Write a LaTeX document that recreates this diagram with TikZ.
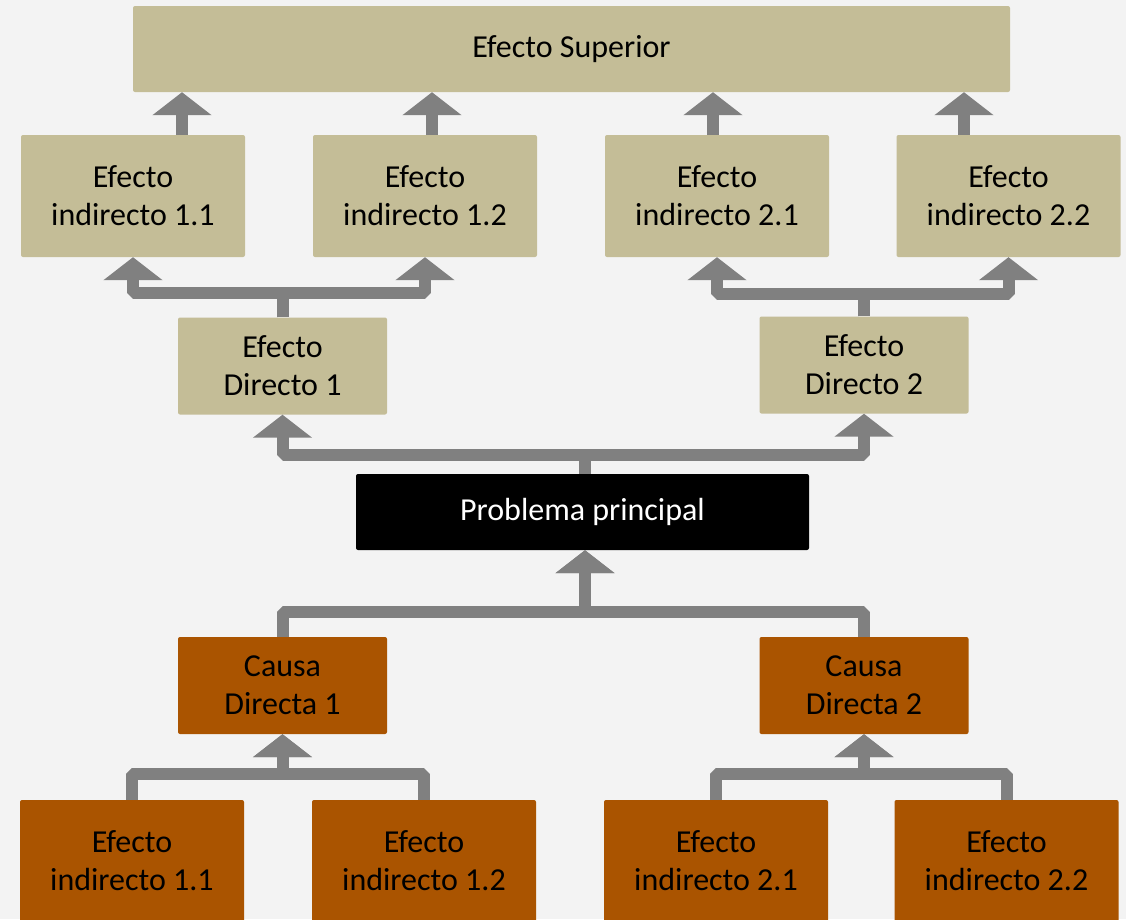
\documentclass[tikz,border=0pt]{standalone}
\usepackage{fontspec}
\setmainfont{Carlito}
\usepackage{tikz}
\usetikzlibrary{arrows.meta, calc}
\definecolor{bgcol}{HTML}{F3F3F3}
\definecolor{tan}{HTML}{C4BD97}
\definecolor{rust}{HTML}{AA5400}
\definecolor{linkgray}{HTML}{808080}

\begin{document}
\begin{tikzpicture}[x=1pt, y=1pt,
    box/.style={rectangle, rounded corners=2pt, inner sep=0pt, align=center,
      font=\fontsize{32}{38}\selectfont},
    effect/.style={box, fill=tan, minimum width=224pt, minimum height=122pt},
    direct/.style={box, fill=tan, minimum width=209pt, minimum height=97pt},
    cause/.style={box, fill=rust, minimum width=209pt, minimum height=97pt},
    subcause/.style={box, fill=rust, minimum width=224pt, minimum height=122pt},
    conn/.style={draw=linkgray, line width=12pt, line join=bevel,
      -{Triangle[width=58pt, length=23pt]}, color=linkgray}]
    \fill[bgcol] (0,0) rectangle (1126,-919);
    \useasboundingbox (0,0) rectangle (1126,-919);

    % efectos
    \node[box, fill=tan, minimum width=877pt, minimum height=86pt] (sup) at (571.5,-49) {Efecto Superior};
    \node[effect] (ei11) at (133,-196) {Efecto\\indirecto 1.1};
    \node[effect] (ei12) at (425,-196) {Efecto\\indirecto 1.2};
    \node[effect] (ei21) at (717,-196) {Efecto\\indirecto 2.1};
    \node[effect] (ei22) at (1008.5,-196) {Efecto\\indirecto 2.2};
    \node[direct] (ed1) at (282.5,-366) {Efecto\\Directo 1};
    \node[direct] (ed2) at (864,-365) {Efecto\\Directo 2};

    % problema
    \node[box, fill=black, text=white, minimum width=453pt, minimum height=76pt] (prob) at (582.5,-512) {Problema principal};

    % causas
    \node[cause] (cd1) at (282.5,-685.5) {Causa\\Directa 1};
    \node[cause] (cd2) at (864,-685.5) {Causa\\Directa 2};
    \node[subcause] (ci11) at (132,-861) {Efecto\\indirecto 1.1};
    \node[subcause] (ci12) at (424,-861) {Efecto\\indirecto 1.2};
    \node[subcause] (ci21) at (716,-861) {Efecto\\indirecto 2.1};
    \node[subcause] (ci22) at (1006.5,-861) {Efecto\\indirecto 2.2};

    % flechas
    \foreach \n/\s in {ei11/49, ei12/7, ei21/-4, ei22/-44.5}
        \draw[conn] ([xshift=\s]\n.north) -- ([xshift=\s]\n.north |- sup.south);
    \draw[conn] (ed1.north) -- ++(0,24) -| (ei11.south);
    \draw[conn] (ed1.north) -- ++(0,24) -| (ei12.south);
    \draw[conn] (ed2.north) -- ++(0,22) -| (ei21.south);
    \draw[conn] (ed2.north) -- ++(0,22) -| (ei22.south);
    \draw[conn] ([xshift=2.5]prob.north) -- ++(0,19) -| (ed1.south);
    \draw[conn] ([xshift=2.5]prob.north) -- ++(0,19) -| (ed2.south);
    \draw[conn] (cd1.north) -- ++(0,25) -| ([xshift=2.5]prob.south);
    \draw[conn] (cd2.north) -- ++(0,25) -| ([xshift=2.5]prob.south);
    \draw[conn] (ci11.north) -- ++(0,26) -| (cd1.south);
    \draw[conn] (ci12.north) -- ++(0,26) -| (cd1.south);
    \draw[conn] (ci21.north) -- ++(0,26) -| (cd2.south);
    \draw[conn] (ci22.north) -- ++(0,26) -| (cd2.south);
\end{tikzpicture}
\end{document}
